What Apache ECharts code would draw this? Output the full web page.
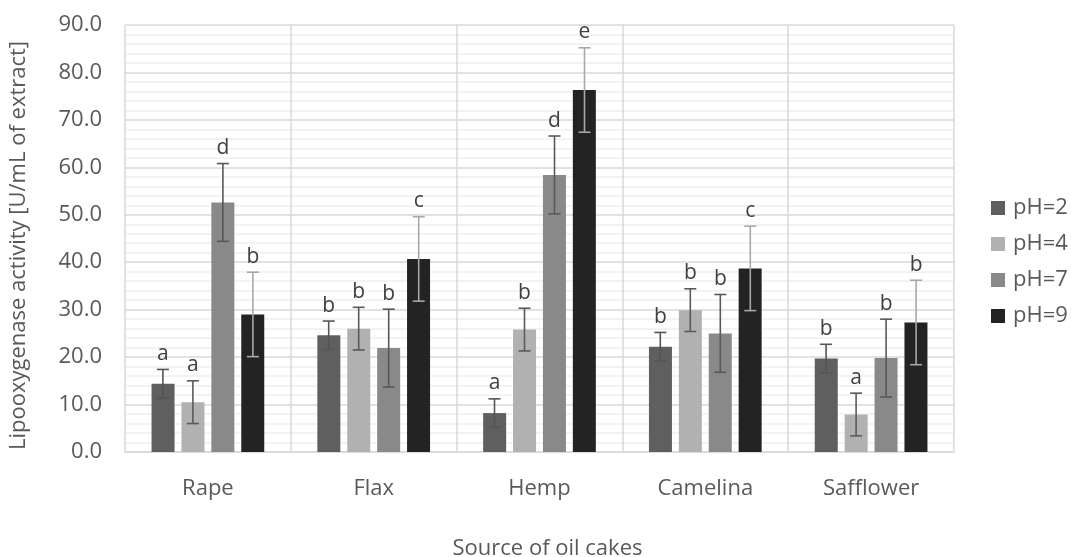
<!DOCTYPE html>
<html>
<head>
<meta charset="utf-8">
<script src="https://cdn.jsdelivr.net/npm/echarts@6/dist/echarts.min.js"></script>
<style>html,body{margin:0;padding:0;background:#fff}#c{width:1071px;height:557px}</style>
</head>
<body>
<div id="c"></div>
<script>
var categories = ['Rape', 'Flax', 'Hemp', 'Camelina', 'Safflower'];
var seriesNames = ['pH=2', 'pH=4', 'pH=7', 'pH=9'];
var ph2 = [14.4, 24.6, 8.2, 22.2, 19.7];
var ph4 = [10.5, 26.0, 25.8, 29.9, 7.9];
var ph7 = [52.6, 21.9, 58.4, 25.0, 19.8];
var ph9 = [29.0, 40.7, 76.3, 38.7, 27.3];
var err2 = [3.0, 3.0, 3.0, 3.0, 3.0];
var err4 = [4.5, 4.5, 4.5, 4.5, 4.5];
var err7 = [8.2, 8.2, 8.2, 8.2, 8.2];
var err9 = [8.9, 8.9, 8.9, 8.9, 8.9];
var letters2 = ['a', 'b', 'a', 'b', 'b'];
var letters4 = ['a', 'b', 'b', 'b', 'a'];
var letters7 = ['d', 'b', 'd', 'b', 'b'];
var letters9 = ['b', 'c', 'e', 'c', 'b'];
var yTicks = [0, 10, 20, 30, 40, 50, 60, 70, 80, 90];

var values = [ph2, ph4, ph7, ph9];
var errs = [err2, err4, err7, err9];
var letters = [letters2, letters4, letters7, letters9];
var barColors = ['#5f5f5f', '#b1b1b1', '#898989', '#232323'];
var errColors = ['#555555', '#5a5a5a', '#585858', '#a8a8a8'];
var FONT = '"Open Sans", "Noto Sans", sans-serif';
var BAR_W = 23, PITCH = 30;

var series = [];
seriesNames.forEach(function (n, i) {
  series.push({
    name: n, type: 'bar', data: values[i], barWidth: BAR_W, barGap: '30%',
    itemStyle: { color: barColors[i] }, emphasis: { disabled: true }, z: 2
  });
});
seriesNames.forEach(function (n, i) {
  var d = values[i].map(function (v, k) { return [k, v, errs[i][k]]; });
  series.push({
    name: n + ' err', type: 'custom', data: d, z: 5, silent: true,
    renderItem: function (params, api) {
      var k = api.value(0), v = api.value(1), e = api.value(2);
      var lt = letters[i][params.dataIndex];
      var off = (i - 1.5) * PITCH;
      var pHi = api.coord([k, v + e]);
      var pLo = api.coord([k, v - e]);
      var x = pHi[0] + off;
      var st = { stroke: errColors[i], lineWidth: 1.6 };
      return {
        type: 'group', children: [
          { type: 'line', shape: { x1: x, y1: pHi[1], x2: x, y2: pLo[1] }, style: st },
          { type: 'line', shape: { x1: x - 6, y1: pHi[1], x2: x + 6, y2: pHi[1] }, style: st },
          { type: 'line', shape: { x1: x - 6, y1: pLo[1], x2: x + 6, y2: pLo[1] }, style: st },
          { type: 'text', x: x, y: pHi[1] - 5, style: { text: lt, fill: '#404040', font: '21px ' + FONT, align: 'center', verticalAlign: 'bottom' } }
        ]
      };
    }
  });
});

var chart = echarts.init(document.getElementById('c'), null, { renderer: 'canvas' });
chart.setOption({
  animation: false,
  backgroundColor: '#fff',
  textStyle: { fontFamily: FONT },
  grid: { left: 125, right: 117, top: 25, bottom: 105, containLabel: false, outerBoundsMode: 'none' },
  legend: {
    data: seriesNames, orient: 'vertical', left: 991, top: 197, padding: 0,
    itemWidth: 14, itemHeight: 14, itemGap: 14, icon: 'rect',
    textStyle: { color: '#595959', fontSize: 22, lineHeight: 22, fontFamily: FONT, padding: [0, 0, 0, 3] }
  },
  xAxis: {
    type: 'category', data: categories,
    axisLine: { lineStyle: { color: '#d9d9d9', width: 1.5 } },
    axisTick: { show: false },
    axisLabel: { color: '#595959', fontSize: 22, lineHeight: 22, margin: 26, fontFamily: FONT },
    splitLine: { show: true, lineStyle: { color: '#d9d9d9', width: 1.5 } },
    name: 'Source of oil cakes', nameLocation: 'middle', nameGap: 86,
    nameTextStyle: { color: '#595959', fontSize: 22, fontFamily: FONT, padding: [0, 0, 0, 16] }
  },
  yAxis: {
    type: 'value', min: 0, max: 90, interval: 10,
    axisLine: { show: false }, axisTick: { show: false },
    axisLabel: { color: '#595959', fontSize: 22, margin: 23, fontFamily: FONT,
      formatter: function (v) { return yTicks.indexOf(v) >= 0 ? v.toFixed(1) : ''; } },
    splitLine: { lineStyle: { color: '#d9d9d9', width: 1.5 } },
    minorTick: { show: false, splitNumber: 5 },
    minorSplitLine: { show: true, lineStyle: { color: '#efefef', width: 1.5 } },
    name: 'Lipooxygenase activity [U/mL of extract]', nameLocation: 'middle', nameGap: 95,
    nameTextStyle: { color: '#595959', fontSize: 22, fontFamily: FONT, padding: [0, 14, 0, 0] }
  },
  series: series
});
</script>
</body>
</html>
